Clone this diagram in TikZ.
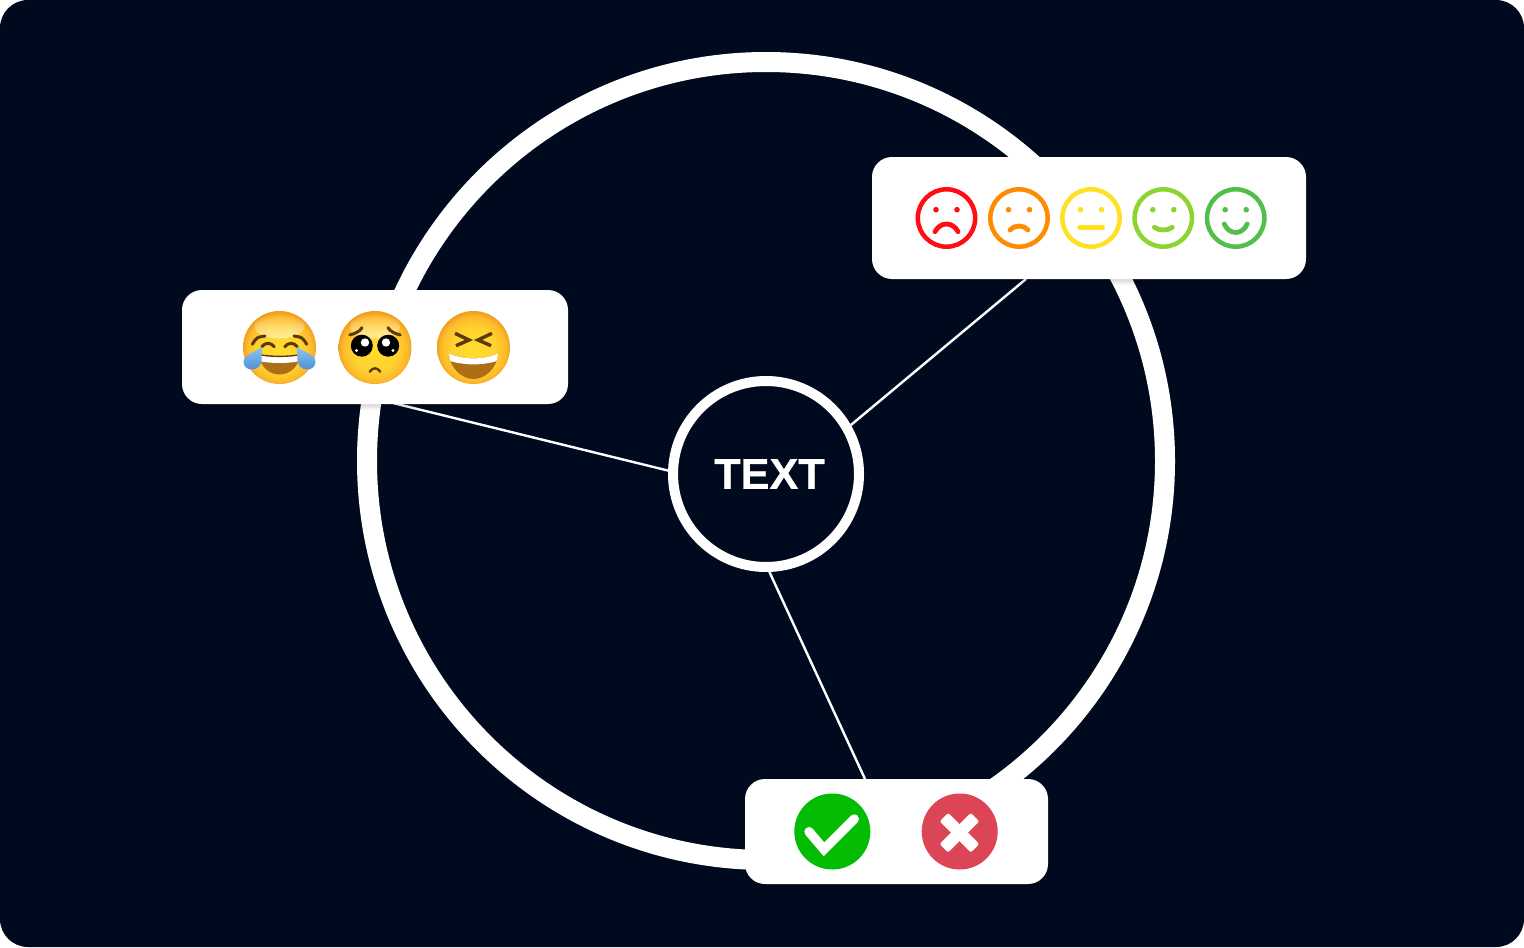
\documentclass[tikz,border=0pt]{standalone}
\usepackage{fontspec}
\usepackage{xcolor}
\usepackage{tikz}
\usetikzlibrary{arrows.meta,positioning,shadows,fadings}
\setmainfont{Liberation Sans}
\newfontfamily\hubfont[BoldFeatures={FakeBold=0.6}]{Liberation Sans}

\definecolor{panelbg}{HTML}{000A1E}
\definecolor{rateA}{HTML}{FF0D12}
\definecolor{rateB}{HTML}{FF8C00}
\definecolor{rateC}{HTML}{FFE022}
\definecolor{rateD}{HTML}{8AD62E}
\definecolor{rateE}{HTML}{52BE4B}
\definecolor{yesgreen}{HTML}{04BC04}
\definecolor{nored}{HTML}{DC4556}
\definecolor{emojiCore}{HTML}{FFDD30}
\definecolor{emojiMid}{HTML}{FFD22E}
\definecolor{emojiEdge}{HTML}{FDBB2C}
\definecolor{emojiRim}{HTML}{EC9418}
\definecolor{emojiInk}{HTML}{5E3808}
\definecolor{emojiMouth}{HTML}{AE6E18}
\definecolor{tearTop}{HTML}{8CC6EE}
\definecolor{tearLow}{HTML}{4F90D6}
\pgfdeclareradialshading{emojiface}{\pgfpoint{0bp}{-2bp}}{%
  color(0bp)=(emojiCore); color(15bp)=(emojiMid); color(22bp)=(emojiEdge);
  color(27bp)=(emojiRim); color(50bp)=(emojiRim)}

\begin{document}
\begin{tikzpicture}[
    x=0.5pt, y=-0.5pt,
    card/.style={fill=white, rounded corners=10pt, inner sep=0pt,
      general shadow={shadow yshift=-1pt, fill=black, opacity=0.05},
      general shadow={shadow yshift=-2pt, fill=black, opacity=0.05},
      general shadow={shadow yshift=-3pt, fill=black, opacity=0.04}},
    link/.style={draw=white, line width=1.2pt},
    face/.style={circle, inner sep=0pt, minimum size=36.5pt, shading=emojiface},
    shine/.style={white, path fading=north, fill opacity=0.55},
    eyeline/.style={draw=emojiInk, line width=1.5pt, line cap=round},
    rate/.style={circle, draw=#1, line width=2.25pt, inner sep=0pt, minimum size=28.7pt},
    mouthline/.style={draw=#1, line width=2.4pt, line cap=round},
    badge/.style={circle, inner sep=0pt, minimum size=38pt}
]
\useasboundingbox (0,0) rectangle (1524,947);
\fill[white] (0,0) rectangle (1524,947);
\fill[panelbg, rounded corners=14pt] (0,0) rectangle (1524,947);

\node[circle, draw=white, line width=10pt, inner sep=0pt, minimum size=399pt] (ring) at (766,461) {};
\node[circle, draw=white, fill=panelbg, line width=5pt, inner sep=0pt, minimum size=93pt] (hub) at (766,474) {};
\node[text=white, font=\hubfont\fontsize{21.6}{24}\selectfont\bfseries, inner sep=0pt] (hubtext) at (769.5,474) {TEXT};

\coordinate (portL) at (393,403);
\coordinate (portR) at (1026,279);
\coordinate (portB) at (865,779);
\draw[link] (hub.178) -- (portL);
\draw[link] (hub.30) -- (portR);
\draw[link] (hub.-88) -- (portB);

\node[card, minimum width=193pt, minimum height=57pt] (cardL) at (375,347) {};
\node[card, minimum width=217pt, minimum height=61pt] (cardR) at (1089,218) {};
\node[card, minimum width=151.5pt, minimum height=52.5pt] (cardB) at (896.5,831.5) {};

% crying with laughter
\begin{scope}[shift={(279.5,347.5)}]
  \node[face] (laugh) at (0,0) {};
  \fill[shine] (0,-21) ellipse[x radius=25, y radius=12];
  \draw[eyeline] (-17.8,-0.8) .. controls (-14,-5.3) and (-9,-5.3) .. (-5.2,-0.8);
  \draw[eyeline] (17.8,-0.8) .. controls (14,-5.3) and (9,-5.3) .. (5.2,-0.8);
  \draw[eyeline] (-27.2,-3.2) .. controls (-22.8,-10.2) .. (-14.5,-11.5);
  \draw[eyeline] (27.2,-3.2) .. controls (22.8,-10.2) .. (14.5,-11.5);
  \fill[emojiMouth] (-20.5,7) .. controls (-10,9.5) and (10,9.5) .. (20.5,7)
    .. controls (19,20) and (10,27) .. (0,27) .. controls (-10,27) and (-19,20) .. (-20.5,7);
  \begin{scope}
    \clip (-20.5,7) .. controls (-10,9.5) and (10,9.5) .. (20.5,7)
      .. controls (19,20) and (10,27) .. (0,27) .. controls (-10,27) and (-19,20) .. (-20.5,7);
    \fill[white] (-25,0) -- (25,0) -- (25,12.5) .. controls (10,16.5) and (-10,16.5) .. (-25,12.5) -- cycle;
  \end{scope}
  \draw[emojiInk, line width=0.7pt] (-20.5,7) .. controls (-10,9.5) and (10,9.5) .. (20.5,7);
  \path[top color=tearTop, bottom color=tearLow] (-18,-1) .. controls (-21,4) and (-36,6) .. (-36,14.5)
    .. controls (-36,19) and (-32,22) .. (-28,22) .. controls (-22,22) and (-18,18) .. (-18,13)
    .. controls (-18,8) and (-17,3) .. (-18,-1) -- cycle;
  \path[top color=tearTop, bottom color=tearLow] (18,-1) .. controls (21,4) and (36,6) .. (36,14.5)
    .. controls (36,19) and (32,22) .. (28,22) .. controls (22,22) and (18,18) .. (18,13)
    .. controls (18,8) and (17,3) .. (18,-1) -- cycle;
\end{scope}

% pleading
\begin{scope}[shift={(375,347.5)}]
  \node[face] (plead) at (0,0) {};
  \fill[shine] (0,-21) ellipse[x radius=25, y radius=12];
  \draw[eyeline] (-25.3,-12.5) .. controls (-20,-14) and (-15,-16) .. (-13,-19.8);
  \draw[eyeline] (25.3,-12.5) .. controls (20,-14) and (15,-16) .. (13,-19.8);
  \node[circle, fill=black, inner sep=0pt, minimum size=11pt] (eyeL) at (-13.2,-1.8) {};
  \node[circle, fill=black, inner sep=0pt, minimum size=11pt] (eyeR) at (13.2,-1.8) {};
  \fill[white] (-10,-5) circle[radius=4.2];
  \fill[white] (-18.5,3) circle[radius=1.6];
  \fill[white] (11,-5) circle[radius=4.2];
  \fill[white] (18,3) circle[radius=1.6];
  \draw[eyeline, line width=1.2pt] (-5.3,24.2) .. controls (-2,19.7) and (2,19.7) .. (5.3,24.2);
\end{scope}

% squinting grin
\begin{scope}[shift={(473.5,347.5)}]
  \node[face] (grin) at (0,0) {};
  \draw[eyeline, line width=1.7pt, line cap=butt] (-18.5,-14.2) -- (-4.5,-7.5) -- (-17.5,-1.8);
  \draw[eyeline, line width=1.7pt, line cap=butt] (18.5,-14.2) -- (4.5,-7.5) -- (17.5,-1.8);
  \fill[emojiMouth] (-24.5,6) .. controls (-10,12.5) and (10,12.5) .. (24.5,6)
    .. controls (24,20) and (12,31.5) .. (0,31.5) .. controls (-12,31.5) and (-24,20) .. (-24.5,6);
  \begin{scope}
    \clip (-24.5,6) .. controls (-10,12.5) and (10,12.5) .. (24.5,6)
      .. controls (24,20) and (12,31.5) .. (0,31.5) .. controls (-12,31.5) and (-24,20) .. (-24.5,6);
    \fill[white] (-28,0) -- (28,0) -- (28,12) .. controls (10,18.5) and (-10,18.5) .. (-28,12) -- cycle;
  \end{scope}
\end{scope}

% rating faces
\foreach \i/\cx/\mx/\my/\ml in {A/946.5/11.5/13.7/6, B/1019/9/12/8, C/1091/11.5/9.7/9.7, D/1163.3/9/9.3/12, E/1235.7/11.5/6/14.5} {
  \pgfmathsetmacro{\cy}{\my+(\ml-\my)*4/3}
  \node[rate=rate\i] (rate\i) at (\cx,218) {};
  \fill[rate\i] ([xshift=-5.25pt,yshift=4.15pt]rate\i.center) circle[radius=2.8];
  \fill[rate\i] ([xshift=5.25pt,yshift=4.15pt]rate\i.center) circle[radius=2.8];
  \begin{scope}[shift={(\cx,218)}]
    \draw[mouthline=rate\i] (-\mx,\my) .. controls (-\mx*0.55,\cy) and (\mx*0.55,\cy) .. (\mx,\my);
  \end{scope}
}

\node[badge, fill=yesgreen] (yes) at (832.3,831.5) {};
\node[badge, fill=nored] (no) at (959.7,831.5) {};
\coordinate (tickA) at (809,831.7);
\coordinate (tickB) at (824,849.3);
\coordinate (tickC) at (854.3,819);
\draw[white, line width=4.7pt, line cap=round, miter limit=10] (tickA) -- (tickB) -- (tickC);
\node[fill=white, rounded corners=1pt, inner sep=0pt, minimum width=22pt, minimum height=6pt, rotate=45] (crossA) at (959.5,832.7) {};
\node[fill=white, rounded corners=1pt, inner sep=0pt, minimum width=22pt, minimum height=6pt, rotate=-45] (crossB) at (959.5,832.7) {};
\end{tikzpicture}
\end{document}
